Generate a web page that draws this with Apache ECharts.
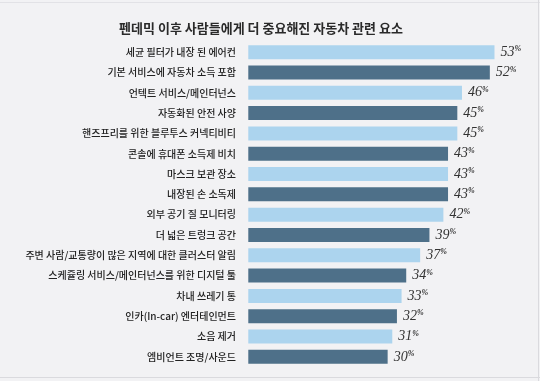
<!DOCTYPE html>
<html><head><meta charset="utf-8">
<script src="https://cdn.jsdelivr.net/npm/echarts@6/dist/echarts.min.js"></script>
<style>html,body{margin:0;padding:0;background:#f2f2f4;}#c{width:540px;height:381px;}</style>
</head><body><div id="c"></div>
<script>
const categories = [
  '세균 필터가 내장 된 에어컨',
  '기본 서비스에 자동차 소득 포함',
  '언텍트 서비스/메인터넌스',
  '자동화된 안전 사양',
  '핸즈프리를 위한 블루투스 커넥티비티',
  '콘솔에 휴대폰 소득제 비치',
  '마스크 보관 장소',
  '내장된 손 소독제',
  '외부 공기 질 모니터링',
  '더 넓은 트렁크 공간',
  '주변 사람/교통량이 많은 지역에 대한 클러스터 알림',
  '스케쥴링 서비스/메인터넌스를 위한 디지털 툴',
  '차내 쓰레기 통',
  '인카(In-car) 엔터테인먼트',
  '소음 제거',
  '엠비언트 조명/사운드'
];
const values = [53, 52, 46, 45, 45, 43, 43, 43, 42, 39, 37, 34, 33, 32, 31, 30];
const title = '펜데믹 이후 사람들에게 더 중요해진 자동차 관련 요소';
const colors = ['#acd4ee', '#4e7089'];

const chart = echarts.init(document.getElementById('c'));
chart.setOption({
  backgroundColor: '#f2f2f4',
  animation: false,
  title: {
    text: title, left: 256, top: 17, textAlign: 'center',
    textStyle: { fontFamily: 'Noto Sans CJK KR', fontSize: 13, fontWeight: 'bold', color: '#2a2a2a' }
  },
  grid: { left: 239, right: 13, top: 42, bottom: 14 },
  xAxis: { type: 'value', min: -2, max: 60, show: false },
  yAxis: {
    type: 'category', data: categories, inverse: true,
    axisLine: { show: false }, axisTick: { show: false },
    axisLabel: { fontFamily: 'Noto Sans CJK KR', fontSize: 10, fontWeight: 500, color: '#222', margin: 3 }
  },
  series: [{
    type: 'bar', barWidth: 14,
    data: values.map((v, i) => ({ value: v, itemStyle: { color: colors[i % 2] } })),
    label: {
      show: true, position: 'right', distance: 6,
      formatter: p => '{v|' + p.value + '}{p|%}',
      rich: {
        v: { fontFamily: 'Liberation Serif', fontStyle: 'italic', fontSize: 14, color: '#333' },
        p: { fontFamily: 'Liberation Serif', fontStyle: 'italic', fontWeight: 'bold', fontSize: 8, color: '#333', verticalAlign: 'top', padding: [0, 0, 6, 0] }
      }
    }
  }],
  graphic: [
    { type: 'line', shape: { x1: 0, y1: 2.5, x2: 540, y2: 2.5 }, style: { stroke: '#e2e2e6', lineWidth: 1 } },
    { type: 'line', shape: { x1: 0, y1: 377.5, x2: 540, y2: 377.5 }, style: { stroke: '#dadade', lineWidth: 1 } },
    { type: 'line', shape: { x1: 538.5, y1: 0, x2: 538.5, y2: 381 }, style: { stroke: '#dadade', lineWidth: 1 } }
  ]
});
</script></body></html>
